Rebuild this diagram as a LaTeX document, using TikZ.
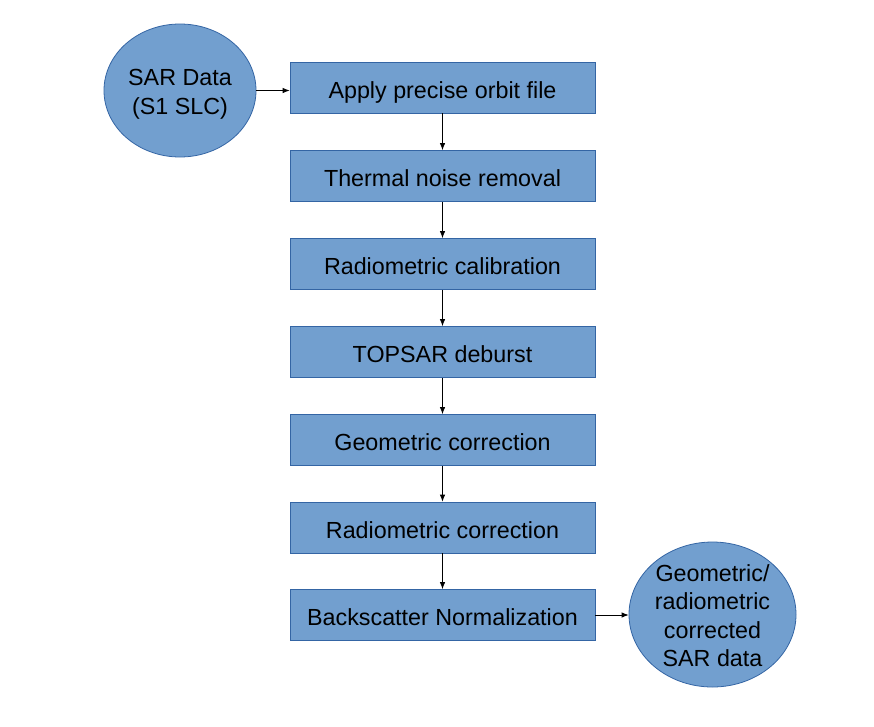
\documentclass[tikz,border=0pt]{standalone}
\usepackage{fontspec}
\setmainfont{Liberation Sans}
\usetikzlibrary{shapes.geometric,arrows.meta}
\definecolor{boxfill}{HTML}{729FCF}
\definecolor{boxline}{HTML}{3465A4}
\begin{document}
\begin{tikzpicture}[x=1pt,y=-1pt,
  stepbox/.style={rectangle,draw=boxline,fill=boxfill,line width=0.8pt,minimum width=305pt,minimum height=51pt,inner sep=0pt,text height=22pt,text depth=0.4pt,font=\fontsize{23.3}{28}\selectfont},
  termnode/.style={ellipse,draw=boxline,fill=boxfill,line width=0.8pt,inner sep=0pt,align=center,font=\fontsize{23.3}{28.4}\selectfont},
  conn/.style={-{Latex[length=7pt,width=5.5pt]},line width=0.8pt,black}]
\useasboundingbox (0,0) rectangle (874,726);
\node[termnode,minimum width=152pt,minimum height=133pt,text height=50pt,text depth=2.8pt] (src) at (180,90.5) {SAR Data\\(S1 SLC)};
\node[stepbox] (b1) at (442.5,87.5) {Apply precise orbit file};
\node[stepbox] (b2) at (442.5,176) {Thermal noise removal};
\node[stepbox] (b3) at (442.5,264) {Radiometric calibration};
\node[stepbox] (b4) at (442.5,352) {TOPSAR deburst};
\node[stepbox] (b5) at (442.5,440) {Geometric correction};
\node[stepbox] (b6) at (442.5,527.5) {Radiometric correction};
\node[stepbox] (b7) at (442.5,615) {Backscatter Normalization};
\node[termnode,minimum width=167pt,minimum height=145pt,inner ysep=-3pt,text height=104.4pt,text depth=0pt] (out) at (712.5,614.5) {Geometric/\\radiometric\\corrected\\SAR data};
\draw[conn] (src.east) -- (src.east -| b1.west);
\draw[conn] (b1) -- (b2);
\draw[conn] (b2) -- (b3);
\draw[conn] (b3) -- (b4);
\draw[conn] (b4) -- (b5);
\draw[conn] (b5) -- (b6);
\draw[conn] (b6) -- (b7);
\draw[conn] (b7.east) -- (b7.east -| out.west);
\end{tikzpicture}
\end{document}
